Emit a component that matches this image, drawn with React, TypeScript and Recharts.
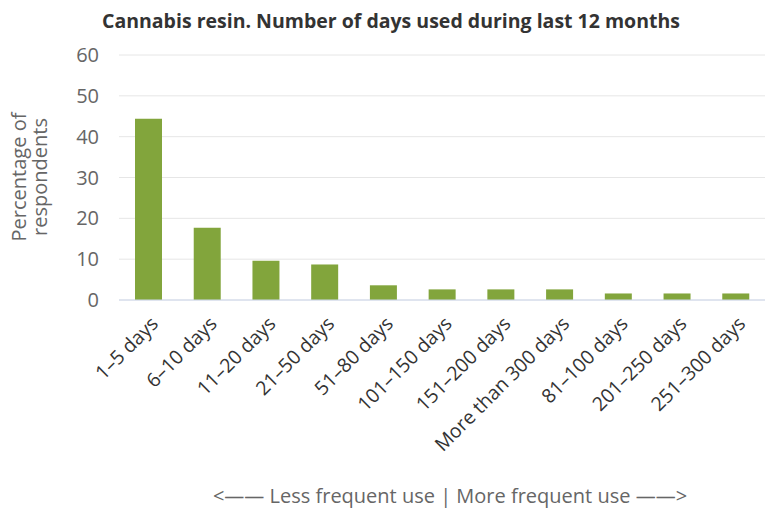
import React from 'react';
import { BarChart, Bar, XAxis, YAxis, CartesianGrid } from 'recharts';

const categories = [
    '1–5 days',
    '6–10 days',
    '11–20 days',
    '21–50 days',
    '51–80 days',
    '101–150 days',
    '151–200 days',
    'More than 300 days',
    '81–100 days',
    '201–250 days',
    '251–300 days',
];
const percentages = [44.4, 17.7, 9.6, 8.7, 3.6, 2.6, 2.6, 2.6, 1.6, 1.6, 1.6];
const yTicks = [0, 10, 20, 30, 40, 50, 60];

const data = categories.map((name, i) => ({ name, value: percentages[i] }));

const FONT = '"Open Sans", "DejaVu Sans", sans-serif';

const RotatedTick = (props: any) => {
    const { x, y, payload } = props;
    return (
        <g transform={`translate(${x + 11},${y + 17})`}>
            <text x={0} y={0} textAnchor="end" transform="rotate(-45)" fill="#333" fontSize={19.5} fontFamily={FONT}>
                {payload.value}
            </text>
        </g>
    );
};

const App: React.FC = () => {
    return (
        <div style={{ position: 'absolute', left: 0, top: 0, width: 774, height: 511, background: '#fff', fontFamily: FONT }}>
            <BarChart width={774} height={511} data={data} margin={{ top: 55, right: 9, bottom: 0, left: 0 }}>
                <CartesianGrid vertical={false} stroke="#e6e6e6" />
                <XAxis
                    dataKey="name"
                    interval={0}
                    height={211}
                    tickLine={false}
                    axisLine={{ stroke: '#ccd6eb' }}
                    tick={<RotatedTick />}
                />
                <YAxis
                    width={119}
                    domain={[0, 60]}
                    ticks={yTicks}
                    axisLine={false}
                    tickLine={false}
                    tickMargin={14}
                    tick={{ fill: '#666', fontSize: 20, fontFamily: FONT }}
                />
                <Bar dataKey="value" fill="#82a53c" barSize={27} isAnimationActive={false} />
            </BarChart>
            <svg width={774} height={511} style={{ position: 'absolute', left: 0, top: 0, pointerEvents: 'none' }}>
                <text x={391} y={28} textAnchor="middle" fontSize={19.5} fontWeight="bold" fill="#333" fontFamily={FONT}>
                    Cannabis resin. Number of days used during last 12 months
                </text>
                <text transform="translate(26,177) rotate(-90)" textAnchor="middle" fontSize={20} fill="#666" fontFamily={FONT}>
                    <tspan x={0} y={0}>Percentage of</tspan>
                    <tspan x={0} y={21}>respondents</tspan>
                </text>
                <text x={450} y={503} textAnchor="middle" fontSize={20} fill="#666" fontFamily={FONT}>
                    {'<—— Less frequent use | More frequent use ——>'}
                </text>
            </svg>
        </div>
    );
};

export default App;
